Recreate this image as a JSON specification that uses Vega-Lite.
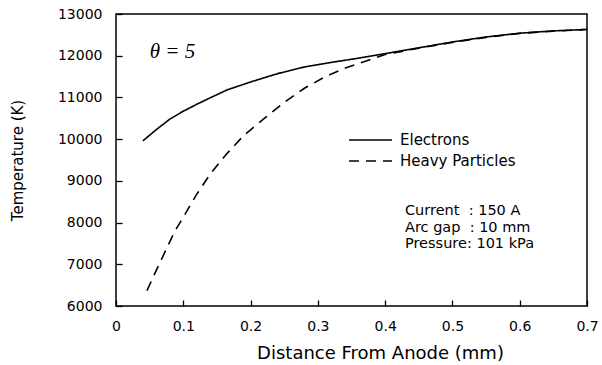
{
  "$schema": "https://vega.github.io/schema/vega-lite/v6.json",
  "width": 471,
  "height": 292,
  "autosize": {"type": "none"},
  "padding": {"left": 116, "top": 14, "right": 15, "bottom": 59},
  "background": "white",
  "config": {
    "view": {"stroke": "black", "strokeWidth": 1.5},
    "font": "DejaVu Sans",
    "axis": {"grid": false, "domain": false, "labelFont": "DejaVu Sans", "labelFontSize": 14, "labelColor": "black", "titleFont": "DejaVu Sans", "titleFontWeight": "normal", "titleColor": "black", "ticks": true, "tickColor": "black", "tickOpacity": 1},
    "legend": {"orient": "none", "legendX": 232, "legendY": 117, "padding": 0, "symbolType": "stroke", "symbolSize": 1849, "symbolStrokeWidth": 1.5, "symbolStrokeColor": "black", "labelFont": "DejaVu Sans", "labelFontSize": 15, "labelColor": "black", "labelOffset": 7, "clipHeight": 18, "rowPadding": 3}
  },
  "datasets": {
    "curves": [
      {"series": "Electrons", "d": 0.04, "T": 9960},
      {"series": "Electrons", "d": 0.06, "T": 10230},
      {"series": "Electrons", "d": 0.08, "T": 10480},
      {"series": "Electrons", "d": 0.10, "T": 10670},
      {"series": "Electrons", "d": 0.12, "T": 10835},
      {"series": "Electrons", "d": 0.14, "T": 10990},
      {"series": "Electrons", "d": 0.165, "T": 11180},
      {"series": "Electrons", "d": 0.20, "T": 11370},
      {"series": "Electrons", "d": 0.24, "T": 11570},
      {"series": "Electrons", "d": 0.28, "T": 11730},
      {"series": "Electrons", "d": 0.32, "T": 11840},
      {"series": "Electrons", "d": 0.36, "T": 11940},
      {"series": "Electrons", "d": 0.40, "T": 12050},
      {"series": "Electrons", "d": 0.45, "T": 12190},
      {"series": "Electrons", "d": 0.50, "T": 12330},
      {"series": "Electrons", "d": 0.55, "T": 12450},
      {"series": "Electrons", "d": 0.60, "T": 12540},
      {"series": "Electrons", "d": 0.65, "T": 12595},
      {"series": "Electrons", "d": 0.70, "T": 12630},
      {"series": "Heavy Particles", "d": 0.046, "T": 6370},
      {"series": "Heavy Particles", "d": 0.06, "T": 6860},
      {"series": "Heavy Particles", "d": 0.087, "T": 7780},
      {"series": "Heavy Particles", "d": 0.104, "T": 8240},
      {"series": "Heavy Particles", "d": 0.12, "T": 8680},
      {"series": "Heavy Particles", "d": 0.14, "T": 9160},
      {"series": "Heavy Particles", "d": 0.163, "T": 9620},
      {"series": "Heavy Particles", "d": 0.19, "T": 10090},
      {"series": "Heavy Particles", "d": 0.22, "T": 10490},
      {"series": "Heavy Particles", "d": 0.25, "T": 10880},
      {"series": "Heavy Particles", "d": 0.28, "T": 11220},
      {"series": "Heavy Particles", "d": 0.31, "T": 11490},
      {"series": "Heavy Particles", "d": 0.34, "T": 11700},
      {"series": "Heavy Particles", "d": 0.375, "T": 11890},
      {"series": "Heavy Particles", "d": 0.40, "T": 12030},
      {"series": "Heavy Particles", "d": 0.45, "T": 12180},
      {"series": "Heavy Particles", "d": 0.50, "T": 12320},
      {"series": "Heavy Particles", "d": 0.55, "T": 12440},
      {"series": "Heavy Particles", "d": 0.60, "T": 12535},
      {"series": "Heavy Particles", "d": 0.65, "T": 12590},
      {"series": "Heavy Particles", "d": 0.70, "T": 12630}
    ]
  },
  "data": {"name": "curves"},
  "layer": [
    {
      "mark": {"type": "line", "color": "black", "strokeWidth": 1.6},
      "encoding": {
        "x": {"field": "d", "type": "quantitative", "scale": {"domain": [0, 0.7], "nice": false, "zero": false},
              "axis": {"orient": "bottom", "values": [0, 0.1, 0.2, 0.3, 0.4, 0.5, 0.6, 0.7], "format": "~g", "tickSize": -6, "tickWidth": 1.3, "labelPadding": 19, "labelFlush": false, "title": "Distance From Anode (mm)", "titleFontSize": 18, "titleX": 264, "titleY": 38, "titleBaseline": "top", "titleAnchor": "middle", "titleAlign": "center"}},
        "y": {"field": "T", "type": "quantitative", "scale": {"domain": [6000, 13000], "nice": false, "zero": false},
              "axis": {"orient": "left", "values": [6000, 7000, 8000, 9000, 10000, 11000, 12000, 13000], "format": "d", "tickSize": -6, "tickWidth": 1.3, "labelPadding": 20, "labelFlush": false, "title": "Temperature (K)", "titleFontSize": 15, "titleX": -99, "titleY": 146, "titleAngle": -90, "titleBaseline": "middle", "titleAlign": "center", "titleAnchor": "middle"}},
        "strokeDash": {"field": "series", "type": "nominal", "scale": {"domain": ["Electrons", "Heavy Particles"], "range": [[1, 0], [10, 7]]}, "legend": {"title": null, "clipHeight": 18, "rowPadding": 3}}
      }
    },
    {
      "data": {"values": [{"label": "θ = 5"}]},
      "mark": {"type": "text", "font": "Liberation Serif", "fontStyle": "italic", "fontSize": 21, "align": "left", "baseline": "alphabetic", "color": "black"},
      "encoding": {
        "x": {"datum": 0.05, "type": "quantitative"},
        "y": {"datum": 11950, "type": "quantitative"},
        "text": {"field": "label"}
      }
    },
    {
      "data": {"values": [{"label": ["Current\u00a0\u00a0: 150 A", "Arc gap\u00a0\u00a0: 10 mm", "Pressure: 101 kPa"]}]},
      "mark": {"type": "text", "font": "DejaVu Sans", "fontSize": 14.5, "lineHeight": 16.5, "align": "left", "baseline": "alphabetic", "color": "black"},
      "encoding": {
        "x": {"datum": 0.4295, "type": "quantitative"},
        "y": {"datum": 8181, "type": "quantitative"},
        "text": {"field": "label"}
      }
    }
  ]
}
